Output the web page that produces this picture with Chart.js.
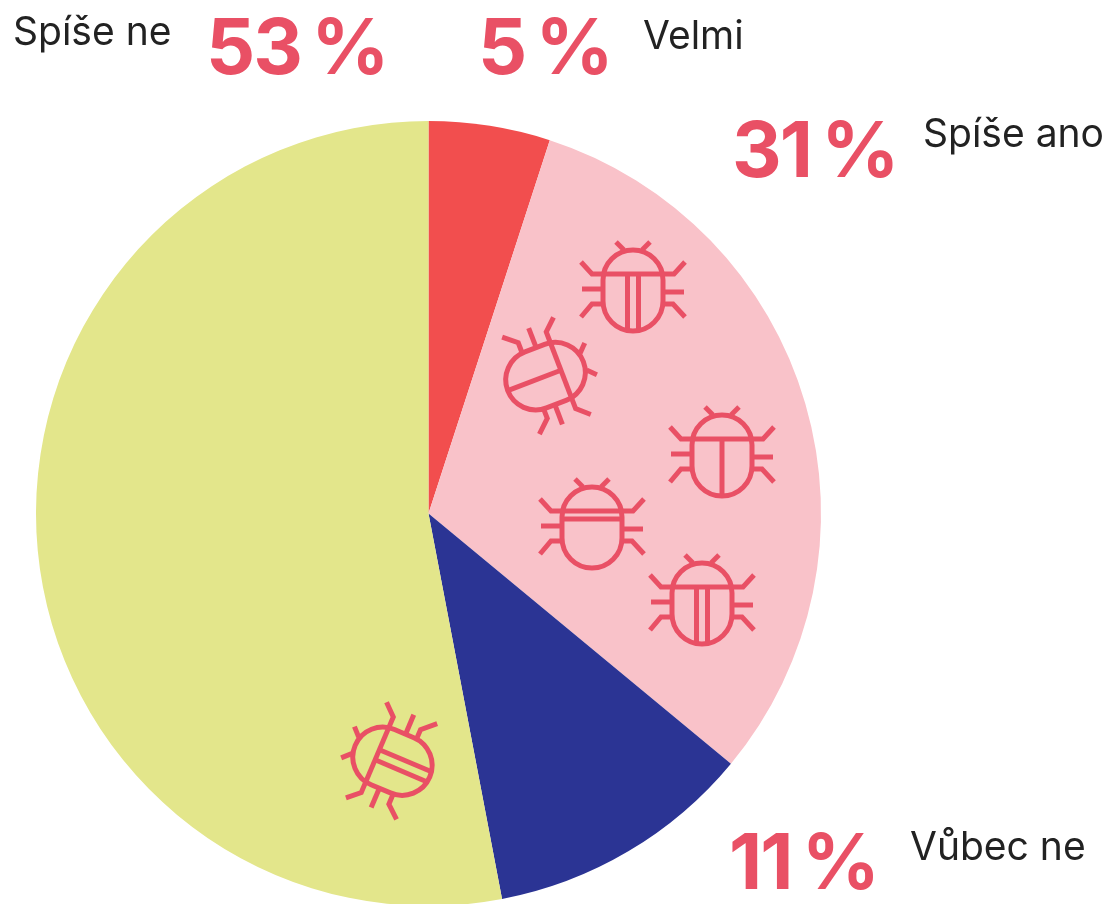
<!DOCTYPE html>
<html lang="cs"><head><meta charset="utf-8">
<style>html,body{margin:0;padding:0;background:#fff;width:1105px;height:904px;overflow:hidden}canvas{display:block}</style>
<script src="https://cdn.jsdelivr.net/npm/chart.js@4"></script></head>
<body><canvas id="c" width="1105" height="960" style="width:1105px;height:960px"></canvas>
<script>
const categories=["Velmi","Spíše ano","Vůbec ne","Spíše ne"];
const values=[5,31,11,53];
const colors=["#F24E4E","#F9C2C9","#2B3494","#E3E68B"];
const valueLabelAnchors=[[478,74],[732,177],[729,889],[206,74]];
const nameLabelAnchors=[[643,49],[923,147],[910,860],[13,45]];
const bugPlacements=[
 {x:633,y:290,rot:0,kind:"double"},
 {x:546,y:376,rot:69,kind:"single"},
 {x:722,y:455,rot:0,kind:"single"},
 {x:592,y:527,rot:0,kind:"band"},
 {x:702,y:603,rot:0,kind:"double"},
 {x:392,y:761,rot:-67,kind:"double"}
];
const ink="#E95065";
function poly(g,pts){g.beginPath();pts.forEach((p,i)=>i?g.lineTo(p[0],p[1]):g.moveTo(p[0],p[1]));g.stroke();}
function drawBug(g,b){
 g.save();g.translate(b.x,b.y);g.rotate(b.rot*Math.PI/180);
 g.strokeStyle=ink;g.lineWidth=5;g.lineJoin="miter";g.lineCap="butt";
 g.beginPath();g.roundRect(-30,-40,60,81,30);g.stroke();
 poly(g,[[-30,-16],[30,-16]]);
 poly(g,[[-52,-28],[-41,-16],[-30,-16]]);poly(g,[[52,-28],[41,-16],[30,-16]]);
 poly(g,[[-51,-1],[-30,-1]]);poly(g,[[51,2],[30,2]]);
 poly(g,[[-52,27],[-41,14],[-30,14]]);poly(g,[[52,27],[40,14],[30,14]]);
 poly(g,[[-17,-48],[-9,-40]]);poly(g,[[17,-48],[9,-40]]);
 if(b.kind==="double"){poly(g,[[-5.5,-16],[-5.5,40]]);poly(g,[[5.5,-16],[5.5,40]]);}
 if(b.kind==="single"){poly(g,[[0,-16],[0,41]]);}
 if(b.kind==="band"){poly(g,[[-30,-8],[30,-8]]);}
 g.restore();
}
const overlay={id:"overlay",afterDatasetsDraw(chart){
 const g=chart.ctx;
 bugPlacements.forEach(b=>drawBug(g,b));
 g.save();g.textAlign="left";g.textBaseline="alphabetic";
 categories.forEach((name,i)=>{
  g.fillStyle="#222222";g.font='400 39px Inter';g.letterSpacing="0px";g.wordSpacing="0px";
  g.fillText(name,nameLabelAnchors[i][0],nameLabelAnchors[i][1]);
  g.fillStyle=ink;g.font='700 77px Inter';g.letterSpacing="-2px";g.wordSpacing="-6px";
  g.fillText(values[i]+" %",valueLabelAnchors[i][0],valueLabelAnchors[i][1]);
 });
 g.restore();
}};
new Chart(document.getElementById("c"),{
 type:"pie",
 data:{labels:categories,datasets:[{data:values,backgroundColor:colors,borderWidth:0,hoverOffset:0}]},
 options:{responsive:false,animation:false,
  layout:{padding:{left:36,right:284,top:121,bottom:54}},
  plugins:{legend:{display:false},tooltip:{enabled:false}}},
 plugins:[overlay]
});
</script></body></html>
